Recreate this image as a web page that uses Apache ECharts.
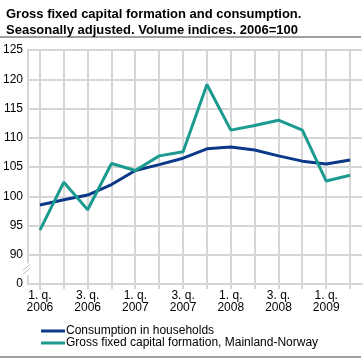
<!DOCTYPE html>
<html><head><meta charset="utf-8">
<script src="https://cdn.jsdelivr.net/npm/echarts@6/dist/echarts.min.js"></script>
<style>html,body{margin:0;padding:0;background:#fff}#c{width:363px;height:359px}</style>
</head><body><div id="c"></div>
<script>
const quarters = ['1. q.\n2006','2. q.\n2006','3. q.\n2006','4. q.\n2006',
  '1. q.\n2007','2. q.\n2007','3. q.\n2007','4. q.\n2007',
  '1. q.\n2008','2. q.\n2008','3. q.\n2008','4. q.\n2008',
  '1. q.\n2009','2. q.\n2009'];
const consumption = [98.5, 99.4, 100.2, 102.0, 104.4, 105.4, 106.5, 108.1, 108.4, 107.9, 106.9, 106.0, 105.5, 106.2];
const gfcf = [94.2, 102.4, 97.7, 105.6, 104.4, 106.9, 107.6, 119.1, 111.3, 112.1, 113.0, 111.3, 102.6, 103.6];
const seriesNames = ['Consumption in households', 'Gross fixed capital formation, Mainland-Norway'];
const yMin = 85, yMax = 125, yStep = 5;

const FONT = '"Liberation Sans", Arial, sans-serif';
const GRID = '#d6d6d6';
const chart = echarts.init(document.getElementById('c'), null, {renderer: 'canvas'});
const gridTop = 50, gridBottom = 75, gridLeft = 28, gridRight = 1;
chart.setOption({
  animation: false,
  textStyle: {fontFamily: FONT},
  title: {
    text: 'Gross fixed capital formation and consumption.\nSeasonally adjusted. Volume indices. 2006=100',
    left: 1, top: 1,
    textStyle: {fontFamily: FONT, fontSize: 13, fontWeight: 'bold', color: '#000', lineHeight: 16}
  },
  grid: {left: gridLeft, right: gridRight, top: gridTop, bottom: gridBottom, containLabel: false},
  legend: {
    orient: 'vertical', left: 36, top: 320, itemWidth: 24, itemHeight: 3, itemGap: 0,
    icon: 'rect', data: seriesNames,
    textStyle: {fontFamily: FONT, fontSize: 12, color: '#000', padding: [0,0,0,-4]}
  },
  xAxis: {
    type: 'category', data: quarters, boundaryGap: true,
    axisLine: {show: true, lineStyle: {color: GRID, width: 2}},
    axisTick: {show: false},
    axisLabel: {interval: 1, color: '#000', fontSize: 12, fontFamily: FONT, lineHeight: 12, margin: 6},
    splitLine: {show: false}
  },
  yAxis: {
    type: 'value', min: yMin, max: yMax, interval: yStep,
    axisLine: {show: true, lineStyle: {color: GRID, width: 2}},
    axisTick: {show: false},
    axisLabel: {color: '#000', fontSize: 12, fontFamily: FONT, margin: 5,
      formatter: v => v === yMin ? '0' : String(v)},
    splitLine: {show: true, lineStyle: {color: GRID, width: 2}}
  },
  series: [
    {name: seriesNames[0], type: 'line', data: consumption, symbol: 'none',
     lineStyle: {color: '#0b3888', width: 3}, itemStyle: {color: '#0b3888'}, z: 3},
    {name: seriesNames[1], type: 'line', data: gfcf, symbol: 'none',
     lineStyle: {color: '#1b9a90', width: 3}, itemStyle: {color: '#1b9a90'}, z: 4}
  ]
});
// decorations: vertical grid lines at category centres, rules, axis break
const yTop = chart.convertToPixel({yAxisIndex: 0}, yMax);
const p90 = chart.convertToPixel({yAxisIndex: 0}, 90);
const p85 = chart.convertToPixel({yAxisIndex: 0}, yMin);
const mid = (p90 + p85) / 2;
const vlines = quarters.map((q, i) => {
  const x = Math.round(chart.convertToPixel({xAxisIndex: 0}, i));
  return {type: 'rect', silent: true, z: -1, shape: {x: x - 1, y: yTop - 1, width: 2, height: p85 + 6 - yTop},
          style: {fill: GRID}};
});
const xl = Math.round(chart.convertToPixel({xAxisIndex: 0}, -0.5));
chart.setOption({
  graphic: vlines.concat([
    {type: 'rect', silent: true, z: -1, shape: {x: xl - 1, y: p85, width: 2, height: 6}, style: {fill: GRID}},
    {type: 'line', shape: {x1: 0, y1: 37, x2: 361, y2: 37}, style: {stroke: '#a0a0a0', lineWidth: 2}},
    {type: 'line', shape: {x1: 0, y1: 357, x2: 361, y2: 357}, style: {stroke: '#a0a0a0', lineWidth: 2}},
    {type: 'rect', shape: {x: gridLeft - 2, y: mid - 6, width: 4, height: 12}, style: {fill: '#fff'}, z: 100},
    {type: 'line', shape: {x1: gridLeft - 5, y1: mid + 1, x2: gridLeft + 2, y2: mid - 5}, style: {stroke: '#c0c0c0', lineWidth: 1}, z: 101},
    {type: 'line', shape: {x1: gridLeft - 5, y1: mid + 5, x2: gridLeft + 2, y2: mid - 1}, style: {stroke: '#c0c0c0', lineWidth: 1}, z: 101}
  ])
});
</script></body></html>
